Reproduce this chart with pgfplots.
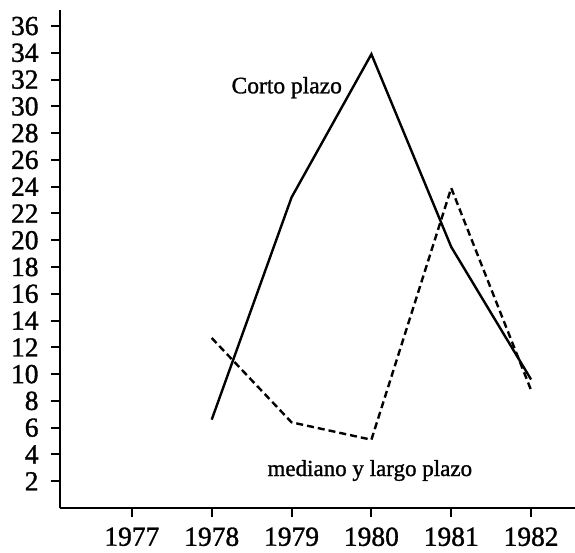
\documentclass[border=0pt]{standalone}
\usepackage{fontspec}
\setmainfont{Liberation Serif}[FakeBold=1.2,AutoFakeBold=0]
\newfontfamily\heavy{Liberation Serif}[FakeBold=1.2]
\usepackage{pgfplots}
\pgfplotsset{compat=1.18}
\begin{document}
\begin{tikzpicture}
\begin{axis}[
  at={(0,0)}, anchor=south west,
  scale only axis,
  width=515bp, height=498bp,
  xmin=1976.1, xmax=1982.55,
  ymin=0, ymax=37.2,
  axis lines=left,
  axis line style={-, line width=2.6bp},
  xtick={1977,1978,1979,1980,1981,1982},
  ytick={2,4,...,36},
  tick align=outside,
  major tick length=9bp,
  tick style={line width=2bp, black},
  /pgf/number format/assume math mode=true,
  /pgf/number format/1000 sep={},
  ticklabel style={font=\heavy\fontsize{27.5bp}{30bp}\selectfont},
  yticklabel style={xshift=-9bp},
  xticklabel style={yshift=-7bp},
  clip=false,
]
\addplot[black, line width=2.4bp] coordinates {
 (1978,6.6) (1979,23.2) (1980,33.9) (1981,19.5) (1982,9.6)};
\addplot[black, line width=2.4bp, dash pattern=on 7bp off 4bp] coordinates {
 (1978,12.7) (1979,6.4) (1980,5.1) (1981,23.9) (1982,8.8)};
\node[font=\heavy\fontsize{23.5bp}{26bp}\selectfont] at (axis cs:1978.94,31.4) {Corto plazo};
\node[font=\heavy\fontsize{23bp}{26bp}\selectfont] at (axis cs:1979.98,2.8) {mediano y largo plazo};
\end{axis}
\pgfresetboundingbox
\path (-60bp,-45bp) rectangle (515bp,508bp);
\end{tikzpicture}
\end{document}
